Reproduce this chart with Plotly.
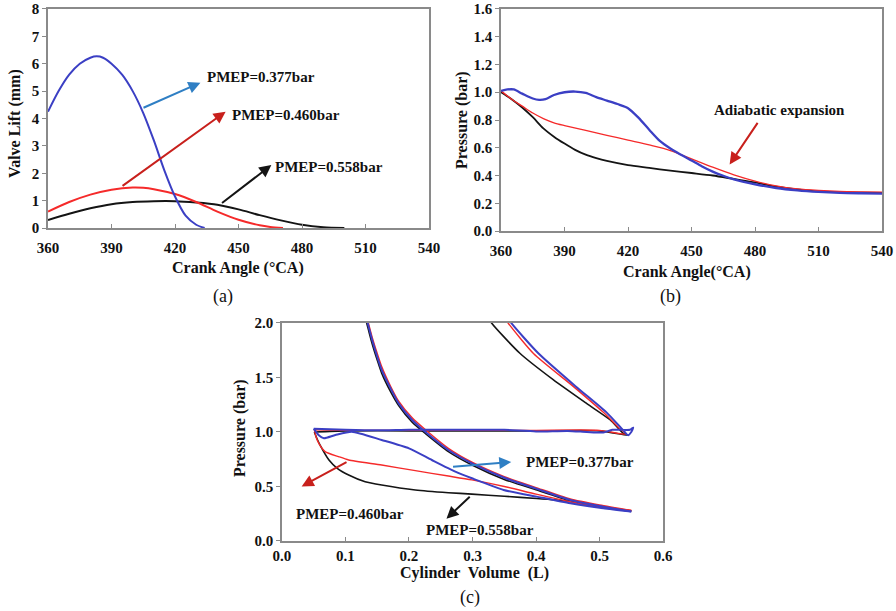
import plotly.graph_objects as go

# ---------------- Panel (a): valve lift ----------------
A_BLUE_X = [360, 365, 370, 375, 380, 383, 386, 390, 395, 400, 405, 410, 415, 420, 425, 430, 434]
A_BLUE_Y = [4.25, 5.0, 5.6, 6.0, 6.22, 6.27, 6.22, 6.0, 5.6, 5.0, 4.2, 3.2, 2.1, 1.15, 0.45, 0.12, 0.0]
A_RED_X = [360, 370, 380, 390, 400, 405, 410, 420, 430, 440, 450, 460, 465, 471]
A_RED_Y = [0.6, 0.95, 1.22, 1.4, 1.48, 1.47, 1.42, 1.24, 0.95, 0.6, 0.3, 0.1, 0.04, 0.0]
A_BLK_X = [360, 370, 380, 390, 400, 410, 420, 430, 440, 450, 460, 470, 480, 490, 500]
A_BLK_Y = [0.29, 0.52, 0.72, 0.87, 0.95, 0.98, 0.98, 0.93, 0.85, 0.68, 0.47, 0.28, 0.12, 0.03, 0.0]

# ---------------- Panel (b): pressure vs crank angle ----------------
B_BLUE_X = [360, 363, 366, 370, 375, 378, 381, 385, 390, 395, 400, 405, 410, 415, 420, 425, 430,
            435, 440, 445, 450, 455, 460, 465, 470, 480, 490, 500, 510, 520, 530, 540]
B_BLUE_Y = [1.01, 1.02, 1.02, 0.99, 0.955, 0.945, 0.95, 0.98, 1.0, 1.005, 0.995, 0.965, 0.94, 0.915,
            0.885, 0.815, 0.73, 0.65, 0.595, 0.55, 0.508, 0.465, 0.428, 0.398, 0.372, 0.337, 0.31,
            0.293, 0.282, 0.275, 0.272, 0.27]
B_RED_X = [360, 365, 370, 375, 380, 385, 390, 400, 410, 420, 430, 440, 450, 460, 470, 480, 490,
           500, 510, 520, 530, 540]
B_RED_Y = [1.01, 0.95, 0.9, 0.85, 0.81, 0.78, 0.76, 0.725, 0.69, 0.655, 0.62, 0.58, 0.52, 0.46,
           0.405, 0.36, 0.325, 0.303, 0.292, 0.285, 0.282, 0.28]
B_BLK_X = [360, 365, 370, 375, 380, 385, 390, 395, 400, 405, 410, 420, 430, 440, 450, 460, 470,
           480, 490, 500, 510, 520, 530, 540]
B_BLK_Y = [1.0, 0.95, 0.89, 0.82, 0.74, 0.68, 0.63, 0.585, 0.55, 0.525, 0.505, 0.475, 0.455,
           0.435, 0.418, 0.4, 0.375, 0.35, 0.32, 0.3, 0.285, 0.28, 0.277, 0.275]

# ---------------- Panel (c): P-V loops ----------------
# segments separated by None: expansion+exhaust | intake | compression
C_BLUE_V = [0.35, 0.361, 0.404, 0.463, 0.511, 0.535, 0.545, 0.55, 0.553, 0.548, 0.52, 0.506, 0.48,
            0.45, 0.40, 0.35, 0.30, 0.25, 0.20, 0.15, 0.10, 0.05, None,
            0.05, 0.058, 0.066, 0.084, 0.11, 0.157, 0.2, 0.236, 0.273, 0.299, 0.349, 0.401, 0.454,
            0.506, 0.55, None,
            0.55, 0.50, 0.454, 0.40, 0.35, 0.30, 0.262, 0.226, 0.205, 0.184, 0.171, 0.157, 0.15,
            0.142, 0.1365, 0.128]
C_BLUE_P = [2.1, 2.0, 1.72, 1.416, 1.18, 1.03, 0.97, 1.0, 1.04, 1.02, 1.02, 0.995, 1.0,
            1.01, 1.005, 1.02, 1.02, 1.02, 1.02, 1.015, 1.02, 1.03, None,
            1.03, 0.97, 0.942, 0.972, 1.003, 0.927, 0.85, 0.743, 0.636, 0.575, 0.468, 0.407, 0.346,
            0.30, 0.27, None,
            0.27, 0.32, 0.376, 0.48, 0.58, 0.71, 0.835, 1.0, 1.11, 1.26, 1.40, 1.57, 1.69,
            1.844, 1.966, 2.15]
C_RED_V = [0.345, 0.356, 0.396, 0.459, 0.506, 0.532, 0.542, 0.50, 0.40, 0.30, 0.20, 0.10, 0.051, None,
           0.051, 0.054, 0.058, 0.068, 0.089, 0.105, 0.157, 0.21, 0.262, 0.299, 0.35, 0.40, 0.45, 0.50,
           0.55, None,
           0.55, 0.50, 0.454, 0.40, 0.35, 0.30, 0.262, 0.226, 0.205, 0.184, 0.171, 0.157, 0.15,
           0.142, 0.1365, 0.128]
C_RED_P = [2.1, 2.0, 1.72, 1.416, 1.18, 1.03, 0.98, 1.015, 1.015, 1.015, 1.015, 1.015, 1.02, None,
           1.02, 0.95, 0.896, 0.82, 0.774, 0.743, 0.697, 0.645, 0.596, 0.56, 0.50, 0.43, 0.365, 0.315,
           0.28, None,
           0.28, 0.33, 0.385, 0.49, 0.59, 0.72, 0.85, 1.02, 1.13, 1.28, 1.42, 1.6, 1.72,
           1.87, 1.99, 2.18]
C_BLK_V = [0.32, 0.330, 0.375, 0.427, 0.480, 0.517, 0.537, 0.545, 0.50, 0.40, 0.30, 0.20, 0.10, 0.051,
           None,
           0.051, 0.055, 0.06, 0.074, 0.087, 0.105, 0.131, 0.157, 0.21, 0.262, 0.299, 0.35, 0.401, 0.45,
           0.50, 0.55, None,
           0.55, 0.50, 0.454, 0.40, 0.35, 0.30, 0.262, 0.226, 0.205, 0.184, 0.171, 0.157, 0.15,
           0.142, 0.1365, 0.128]
C_BLK_P = [2.1, 2.0, 1.72, 1.48, 1.26, 1.11, 0.99, 0.97, 1.01, 1.01, 1.01, 1.01, 1.01, 1.0,
           None,
           1.0, 0.94, 0.88, 0.743, 0.667, 0.606, 0.544, 0.514, 0.468, 0.443, 0.43, 0.41, 0.39, 0.365,
           0.32, 0.275, None,
           0.275, 0.31, 0.37, 0.47, 0.565, 0.695, 0.82, 0.985, 1.09, 1.24, 1.37, 1.54, 1.66,
           1.81, 1.93, 2.12]

# ---------------- labels ----------------
PMEP_LABELS = ["PMEP=0.377bar", "PMEP=0.460bar", "PMEP=0.558bar"]
A_TICKS_Y = [0, 1, 2, 3, 4, 5, 6, 7, 8]
CA_TICKS = [360, 390, 420, 450, 480, 510, 540]
B_TICKS_Y = [0.0, 0.2, 0.4, 0.6, 0.8, 1.0, 1.2, 1.4, 1.6]
C_TICKS_X = [0.0, 0.1, 0.2, 0.3, 0.4, 0.5, 0.6]
C_TICKS_Y = [0.0, 0.5, 1.0, 1.5, 2.0]

BLUE = "#3b3fc4"
RED = "#f52a2a"
BLACK = "#141414"
ARROW_BLUE = "#2f7fc4"
ARROW_RED = "#c8201c"
SERIF = "Liberation Serif"

fig = go.Figure()


def add(x, y, color, width, xa, ya, smooth=0.8):
    fig.add_trace(go.Scatter(x=x, y=y, mode="lines",
                             line=dict(color=color, width=width, shape="spline", smoothing=smooth),
                             connectgaps=False, xaxis=xa, yaxis=ya, showlegend=False,
                             hoverinfo="skip"))


add(A_BLK_X, A_BLK_Y, BLACK, 2, "x", "y")
add(A_RED_X, A_RED_Y, RED, 2, "x", "y")
add(A_BLUE_X, A_BLUE_Y, BLUE, 2, "x", "y")

add(B_BLK_X, B_BLK_Y, BLACK, 1.8, "x2", "y2")
add(B_RED_X, B_RED_Y, RED, 1.3, "x2", "y2")
add(B_BLUE_X, B_BLUE_Y, BLUE, 2.3, "x2", "y2")

add(C_BLK_V, C_BLK_P, BLACK, 1.6, "x3", "y3", 0.6)
add(C_RED_V, C_RED_P, RED, 1.4, "x3", "y3", 0.6)
add(C_BLUE_V, C_BLUE_P, BLUE, 2, "x3", "y3", 0.6)

tickfont = dict(family=SERIF, size=15, color="#111", weight="bold")


def axis(domain, rng, ticks, fmt, anchor, inside, standoff=0):
    return dict(domain=domain, range=rng, tickvals=ticks, tickformat=fmt, anchor=anchor,
                showline=True, mirror=True, linecolor="#8a8a8a", linewidth=1.5,
                ticks="inside" if inside else "outside", ticklen=4, tickcolor="#8a8a8a",
                showgrid=False, zeroline=False, tickfont=tickfont, fixedrange=True,
                automargin=False, ticklabelstandoff=standoff)


fig.update_layout(
    width=896, height=611, margin=dict(l=0, r=0, t=0, b=0, pad=0, autoexpand=False),
    paper_bgcolor="white", plot_bgcolor="white",
    font=dict(family=SERIF, color="#111"),
    xaxis=axis([0.0536, 0.4788], [360, 540], CA_TICKS, "d", "y", True, 5),
    yaxis=axis([0.6268, 0.9853], [0, 8], A_TICKS_Y, "d", "x", False),
    xaxis2=axis([0.5592, 0.9844], [360, 540], CA_TICKS, "d", "y2", True, 5),
    yaxis2=axis([0.6219, 0.9853], [0, 1.6], B_TICKS_Y, ".1f", "x2", False),
    xaxis3=axis([0.3147, 0.7400], [0, 0.6], C_TICKS_X, ".1f", "y3", True),
    yaxis3=axis([0.1146, 0.4714], [0, 2.0], C_TICKS_Y, ".1f", "x3", False),
)

bold = dict(family=SERIF, size=15, color="#111", weight="bold")
title_font = dict(family=SERIF, size=16, color="#111", weight="bold")
ann = []


def arrow(xr, yr, x, y, ax, ay, color):
    ann.append(dict(xref=xr, yref=yr, axref=xr, ayref=yr, x=x, y=y, ax=ax, ay=ay, text="",
                    showarrow=True, arrowhead=2, arrowsize=1.2, arrowwidth=2, arrowcolor=color))


def label(xr, yr, x, y, text, xanchor="left", font=bold, angle=0):
    ann.append(dict(xref=xr, yref=yr, x=x, y=y, text=text, showarrow=False, xanchor=xanchor,
                    yanchor="middle", font=font, textangle=angle))


# panel (a)
arrow("x", "y", 432, 5.31, 404.4, 4.37, ARROW_BLUE)
label("x", "y", 434.4, 5.5, PMEP_LABELS[0])
arrow("x", "y", 443.9, 4.25, 394.5, 1.50, ARROW_RED)
label("x", "y", 446.2, 4.13, PMEP_LABELS[1])
arrow("x", "y", 465.5, 2.3, 441.5, 0.87, BLACK)
label("x", "y", 466.4, 2.23, PMEP_LABELS[2])

# panel (b)
label("x2", "y2", 459.6, 0.873, "Adiabatic expansion")
arrow("x2", "y2", 468, 0.48, 481.7, 0.79, ARROW_RED)

# panel (c)
arrow("x3", "y3", 0.361, 0.725, 0.267, 0.679, ARROW_BLUE)
label("x3", "y3", 0.381, 0.72, PMEP_LABELS[0])
arrow("x3", "y3", 0.031, 0.50, 0.104, 0.731, ARROW_RED)
label("x3", "y3", 0.019, 0.25, PMEP_LABELS[1])
arrow("x3", "y3", 0.259, 0.205, 0.298, 0.419, BLACK)
label("x3", "y3", 0.223, 0.104, PMEP_LABELS[2])

# axis titles
label("paper", "paper", 0.2656, 0.5614, "Crank Angle (°CA)", "center", font=title_font)
label("paper", "paper", 0.0167, 0.7987, "Valve Lift (mm)", "center", font=title_font, angle=-90)
label("paper", "paper", 0.7667, 0.5548, "Crank Angle(°CA)", "center", font=title_font)
label("paper", "paper", 0.5156, 0.8036, "Pressure (bar)", "center", font=title_font, angle=-90)
label("paper", "paper", 0.5301, 0.0622, "Cylinder  Volume  (L)", "center", font=title_font)
label("paper", "paper", 0.2679, 0.2995, "Pressure (bar)", "center", font=title_font, angle=-90)

# panel letters
reg = dict(family=SERIF, size=18, color="#111")
label("paper", "paper", 0.2489, 0.514, "(a)", "center", font=reg)
label("paper", "paper", 0.7478, 0.514, "(b)", "center", font=reg)
label("paper", "paper", 0.5246, 0.0229, "(c)", "center", font=reg)

fig.update_layout(annotations=ann)
fig.write_html("out.html", config={"displayModeBar": False},
               post_script="document.body.style.margin='0px';document.body.style.overflow='hidden';")
